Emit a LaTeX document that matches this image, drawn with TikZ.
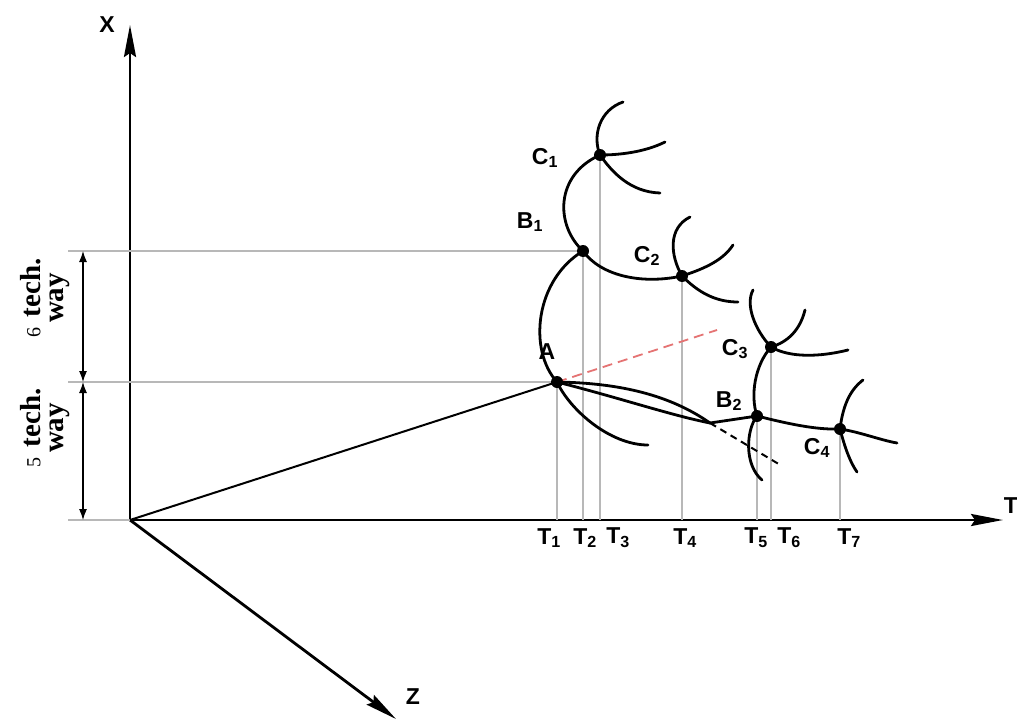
\documentclass[tikz,border=0pt]{standalone}
\usepackage{fontspec}
\setmainfont{Liberation Serif}
\setsansfont{Liberation Sans}
\usetikzlibrary{arrows.meta}

\begin{document}
\begin{tikzpicture}[x=1pt,y=-1pt,
    curve/.style={line width=2.8pt,line cap=round},
    guide/.style={line width=1.5pt,black!28},
    axis/.style={line width=2.8pt,-{Stealth[length=32pt,width=12pt,inset=4pt]}},
    dot/.style={circle,fill=black,inner sep=0pt,minimum size=12pt},
    lbl/.style={font=\fontsize{23}{25}\selectfont\sffamily\bfseries},
    way/.style={rotate=90,align=center,font=\fontsize{29}{23}\selectfont},
    dim/.style={line width=1.2pt,{Latex[length=11pt,width=8pt]}-{Latex[length=11pt,width=8pt]}}]
    \useasboundingbox[fill=white] (0,0) rectangle (1017,720);
    % axes
    \coordinate (O) at (130,520);
    \coordinate (L) at (68,520);
    \coordinate (D0) at (83,520);
    \draw[axis] (O) -- (130,25) coordinate (Xe);
    \draw[axis] (O) -- (1003,520) coordinate (Te);
    \draw[axis] (O) -- (396,719) coordinate (Ze);
    \node[lbl] (lX) at (107,25) {X};
    \node[lbl,anchor=east,inner sep=0pt] (lT) at (1018,506) {T};
    \node[lbl] (lZ) at (413,697) {Z};
    \draw[guide] (L) -- (O);
    % points
    \coordinate (A) at (557,382);
    \coordinate (B1) at (583,251);
    \coordinate (C1) at (600,155);
    \coordinate (C2) at (682,276);
    \coordinate (C3) at (771,347);
    \coordinate (B2) at (757,416);
    \coordinate (C4) at (840,429);
    \coordinate (J) at (710,423);
    % projections
    \draw[guide] (L |- B1) -- (B1);
    \draw[guide] (L |- A) -- (A);
    \foreach \p in {A,B1,C1,C2,C3,B2,C4}
        \draw[guide] (\p) -- (\p |- O);
    \draw[dim] (D0) -- (D0 |- A);
    \draw[dim] (D0 |- A) -- (D0 |- B1);
    \node[way] (w5) at (45,428) {{\fontsize{20}{20}\selectfont 5}\hspace{10pt}\textbf{tech.}\\\textbf{way}};
    \node[way] (w6) at (45,298) {{\fontsize{20}{20}\selectfont 6}\hspace{10pt}\textbf{tech.}\\\textbf{way}};
    \draw[line width=2pt] (O) -- (A);
    % tree
    \draw[curve] (A) .. controls (528,350) and (535,280) .. (B1);
    \draw[curve] (B1) .. controls (555,225) and (555,175) .. (C1);
    \draw[curve] (B1) .. controls (600,275) and (640,285) .. (C2);
    \draw[curve] (C1) .. controls (592,135) and (600,110) .. (623,102) coordinate (c1a);
    \draw[curve] (C1) .. controls (620,155) and (645,152) .. (665,142) coordinate (c1b);
    \draw[curve] (C1) .. controls (612,172) and (630,192) .. (660,193) coordinate (c1c);
    \draw[curve] (C2) .. controls (670,255) and (668,228) .. (690,217) coordinate (c2a);
    \draw[curve] (C2) .. controls (700,270) and (722,262) .. (733,245) coordinate (c2b);
    \draw[curve] (C2) .. controls (698,292) and (715,302) .. (738,302) coordinate (c2c);
    \draw[curve] (C3) .. controls (755,330) and (745,305) .. (753,290) coordinate (c3a);
    \draw[curve] (C3) .. controls (788,342) and (800,330) .. (805,310) coordinate (c3b);
    \draw[curve] (C3) .. controls (790,358) and (820,357) .. (848,350) coordinate (c3c);
    \draw[curve] (C3) .. controls (755,365) and (750,395) .. (B2);
    \draw[curve] (B2) .. controls (785,423) and (815,430) .. (C4);
    \draw[curve] (B2) .. controls (746,430) and (744,465) .. (762,480) coordinate (b2a);
    \draw[curve] (C4) .. controls (843,405) and (850,390) .. (863,380) coordinate (c4a);
    \draw[curve] (C4) .. controls (860,432) and (880,440) .. (897,443) coordinate (c4b);
    \draw[curve] (C4) .. controls (845,448) and (850,462) .. (857,472) coordinate (c4c);
    \draw[curve] (A) .. controls (570,410) and (610,445) .. (648,445) coordinate (a1);
    \draw[curve] (A) .. controls (620,383) and (670,395) .. (J);
    \draw[curve] (A) .. controls (620,398) and (670,415) .. (J);
    \draw[curve] (J) -- (B2);
    \draw[line width=2pt,dash pattern=on 7pt off 5pt] (J) -- (782,466) coordinate (j1);
    \draw[line width=1.8pt,dash pattern=on 10pt off 6pt,red!50!white!90!black] (A) -- (717,330) coordinate (a2);
    % dots
    \foreach \p in {A,B1,C1,C2,C3,B2,C4}
        \node[dot] (d\p) at (\p) {};
    % labels
    \node[lbl] (lA) at (547,352) {A};
    \node[lbl] (lB1) at (530,222) {B\textsubscript{1}};
    \node[lbl] (lC1) at (545,158) {C\textsubscript{1}};
    \node[lbl] (lC2) at (647,256) {C\textsubscript{2}};
    \node[lbl] (lC3) at (735,349) {C\textsubscript{3}};
    \node[lbl] (lB2) at (729,401) {B\textsubscript{2}};
    \node[lbl] (lC4) at (817,448) {C\textsubscript{4}};
    \node[lbl] (lT1) at (549,538) {T\textsubscript{1}};
    \node[lbl] (lT2) at (585,538) {T\textsubscript{2}};
    \node[lbl] (lT3) at (618,538) {T\textsubscript{3}};
    \node[lbl] (lT4) at (685,538) {T\textsubscript{4}};
    \node[lbl] (lT5) at (756,538) {T\textsubscript{5}};
    \node[lbl] (lT6) at (789,538) {T\textsubscript{6}};
    \node[lbl] (lT7) at (849,538) {T\textsubscript{7}};
\end{tikzpicture}
\end{document}
